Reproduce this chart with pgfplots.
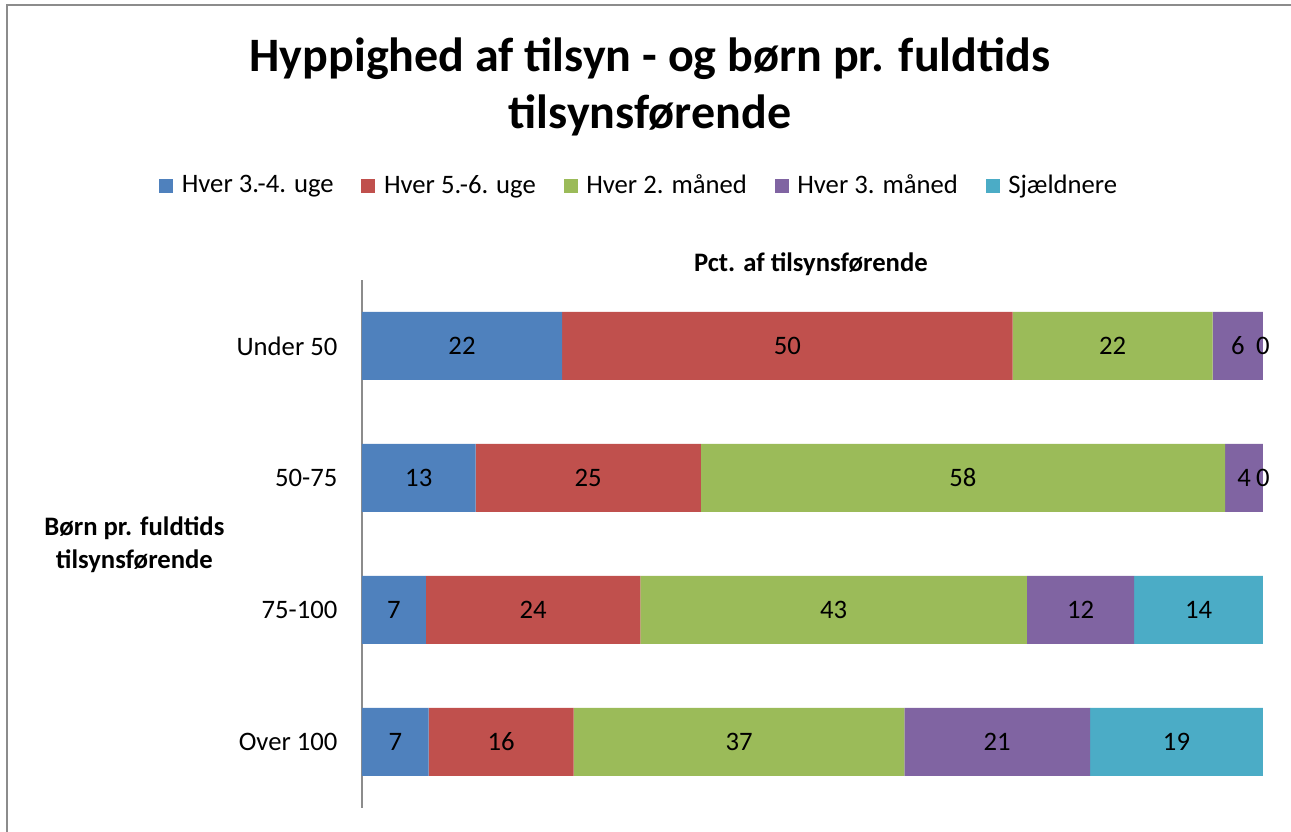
\documentclass[border=0pt]{standalone}
\usepackage{fontspec}
\setmainfont{Carlito}
\usepackage{pgfplots}
\usepackage{pgfplotstable}
\pgfplotsset{compat=1.18}

\definecolor{c1}{HTML}{4F81BD}
\definecolor{c2}{HTML}{C0504D}
\definecolor{c3}{HTML}{9BBB59}
\definecolor{c4}{HTML}{8064A2}
\definecolor{c5}{HTML}{4BACC6}
\definecolor{frame}{HTML}{8C8C8C}

% percent of supervisors, rows bottom to top
\pgfplotstableread{
y  a     b     c     d     e
0  7.4   16.1  36.7  20.6  19.2
1  7.1   23.8  42.9  11.9  14.3
2  12.6  25.0  58.2  4.2   0
3  22.2  50.0  22.2  5.6   0
}\data

% label positions = middle of each segment
\pgfplotstableread{
y  m      l
0  3.7    7
0  15.45  16
0  41.85  37
0  70.5   21
0  90.4   19
1  3.55   7
1  19.0   24
1  52.35  43
1  79.75  12
1  92.85  14
2  6.3    13
2  25.1   25
2  66.7   58
2  97.9   4
2  100    0
3  11.1   22
3  47.2   50
3  83.3   22
3  97.2   6
3  100    0
}\labels

\begin{document}
\begin{tikzpicture}
% 1px = 0.375pt
\path[use as bounding box] (0,0) rectangle (484.125pt,312pt);
\draw[frame, line width=0.75pt] (2.625pt,-1pt) -- (2.625pt,310.125pt) -- (486pt,310.125pt);

\node[align=center, font=\fontsize{18}{21.4}\selectfont\bfseries]
  at (243.75pt,279.5pt) {Hyppighed af tilsyn - og børn pr. fuldtids\\tilsynsførende};
\node[font=\fontsize{10}{12}\selectfont\bfseries] at (304.1pt,213pt) {Pct. af tilsynsførende};
\node[align=center, font=\fontsize{10}{12.4}\selectfont\bfseries]
  at (50.4pt,107.6pt) {Børn pr. fuldtids\\tilsynsførende};

\begin{axis}[
  at={(135.75pt,9pt)}, anchor=south west,
  scale only axis, width=337.875pt, height=198pt,
  xbar stacked, bar width=25.5pt,
  xmin=0, xmax=100, ymin=-0.5, ymax=3.5,
  axis y line*=left, axis x line=none,
  axis line style={frame, line width=0.75pt},
  xtick=\empty,
  ytick={0,1,2,3}, yticklabels={Over 100,75-100,50-75,Under 50},
  major tick length=0pt,
  yticklabel style={font=\fontsize{10}{12}\selectfont, xshift=-5.7pt},
  legend columns=5,
  legend style={at={(0.3095,1.178)}, anchor=center, draw=none, fill=none,
    font=\fontsize{10}{12}\selectfont,
    /tikz/every even column/.append style={column sep=8.4pt}},
  legend image code/.code={\fill[#1] (0pt,-2.625pt) rectangle (5.25pt,2.625pt); \path (6.5pt,0pt);},
]
\addplot[fill=c1, draw=none] table[x=a, y=y] {\data};
\addplot[fill=c2, draw=none] table[x=b, y=y] {\data};
\addplot[fill=c3, draw=none] table[x=c, y=y] {\data};
\addplot[fill=c4, draw=none] table[x=d, y=y] {\data};
\addplot[fill=c5, draw=none] table[x=e, y=y] {\data};
\legend{Hver 3.-4. uge, Hver 5.-6. uge, Hver 2. måned, Hver 3. måned, Sjældnere}
\end{axis}

\begin{axis}[
  at={(135.75pt,9pt)}, anchor=south west,
  scale only axis, width=337.875pt, height=198pt,
  xmin=0, xmax=100, ymin=-0.5, ymax=3.5,
  hide axis, clip=false,
]
\addplot[only marks, mark=none,
  nodes near coords, point meta=explicit symbolic,
  every node near coord/.append style={anchor=center, font=\fontsize{10}{12}\selectfont, text=black}]
  table[x=m, y=y, meta=l] {\labels};
\end{axis}
\end{tikzpicture}
\end{document}
